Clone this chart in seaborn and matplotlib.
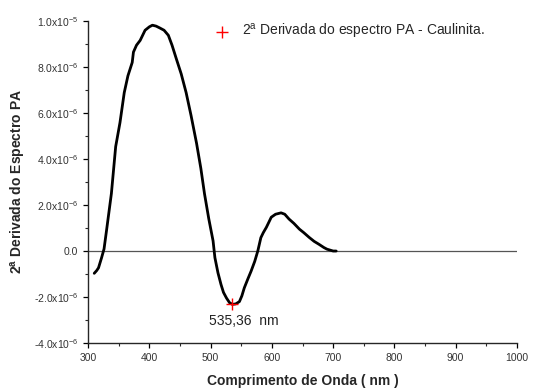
import matplotlib
matplotlib.use("Agg")
import matplotlib.pyplot as plt
import seaborn as sns
import numpy as np
import pandas as pd
from matplotlib.ticker import MultipleLocator, FixedLocator

wavelength = [310, 314, 317, 322, 326, 330, 338, 345, 352, 359, 365, 372, 374, 379, 385,
              393, 400, 405, 411, 417, 424, 431, 437, 444, 452, 460, 468, 477, 484, 490,
              497, 504, 507, 512, 517, 521, 526, 531, 535.36, 541, 547, 551, 555, 561, 566,
              572, 577, 582, 586, 591, 595, 599, 606, 615, 621, 628, 636, 645, 652, 661,
              669, 677, 685, 690, 695, 700, 705]
deriv = [-0.97, -0.85, -0.73, -0.29, 0.09, 0.88, 2.5, 4.54, 5.58, 6.89, 7.62, 8.2, 8.65, 8.95, 9.16,
         9.6, 9.75, 9.82, 9.78, 9.7, 9.6, 9.38, 8.95, 8.36, 7.7, 6.89, 5.9, 4.69, 3.6, 2.49,
         1.4, 0.44, -0.29, -0.95, -1.46, -1.8, -2.05, -2.25, -2.32, -2.3, -2.2, -1.95, -1.6, -1.2, -0.88,
         -0.45, 0.0, 0.58, 0.8, 1.03, 1.25, 1.47, 1.6, 1.66, 1.6, 1.39, 1.2, 0.95, 0.8, 0.59,
         0.42, 0.29, 0.15, 0.08, 0.04, 0.0, 0.0]
deriv = [v * 1e-6 for v in deriv]

min_x = [535.36]
min_y = [-2.32e-6]
min_label = "535,36  nm"
legend_label = "2$^{\\mathrm{a}}$ Derivada do espectro PA - Caulinita."

y_ticks = [-4e-6, -2e-6, 0.0, 2e-6, 4e-6, 6e-6, 8e-6, 1.0e-5]
y_tick_labels = ["-4.0x10$^{-6}$", "-2.0x10$^{-6}$", "0.0", "2.0x10$^{-6}$", "4.0x10$^{-6}$",
                 "6.0x10$^{-6}$", "8.0x10$^{-6}$", "1.0x10$^{-5}$"]
x_ticks = [300, 400, 500, 600, 700, 800, 900, 1000]

sns.set_style("ticks")
plt.rcParams['font.family'] = ['Liberation Sans', 'DejaVu Sans']
plt.rcParams['mathtext.fontset'] = 'custom'
plt.rcParams['mathtext.rm'] = 'Liberation Sans'
plt.rcParams['mathtext.bf'] = 'Liberation Sans:bold'

fig = plt.figure(figsize=(5.34, 3.9), dpi=100)
ax = fig.add_axes([0.165, 0.1205, 0.803, 0.8255])

ax.axhline(0, color="#555555", lw=0.9, zorder=1)

df = pd.DataFrame({"x": wavelength, "y": deriv})
sns.lineplot(data=df, x="x", y="y", ax=ax, color="black", lw=2.0, zorder=3)

dfm = pd.DataFrame({"x": min_x, "y": min_y})
sns.scatterplot(data=dfm, x="x", y="y", ax=ax, marker="+", color="red", s=70,
                linewidth=1.0, zorder=4, label=legend_label)
ax.annotate(min_label, (min_x[0], min_y[0]), xytext=(8, -7), textcoords="offset points",
            ha="center", va="top", fontsize=10, color="#222222")

ax.set_xlim(300, 1000)
ax.set_ylim(-4e-6, 1.0e-5)
ax.xaxis.set_major_locator(FixedLocator(x_ticks))
ax.xaxis.set_minor_locator(MultipleLocator(50))
ax.set_yticks(y_ticks)
ax.set_yticklabels(y_tick_labels)
ax.yaxis.set_minor_locator(MultipleLocator(1e-6))
ax.tick_params(axis="both", which="major", labelsize=7.5, length=3.5, width=0.9, direction="out", colors="black")
ax.tick_params(axis="both", which="minor", length=2, width=0.8, direction="out")
for lab in ax.get_xticklabels() + ax.get_yticklabels():
    lab.set_color("#333333")

sns.despine(ax=ax)
ax.spines["left"].set_linewidth(1.0)
ax.spines["bottom"].set_linewidth(1.0)

ax.set_xlabel("Comprimento de Onda ( nm )", fontsize=10, fontweight="bold", labelpad=8)
ax.set_ylabel("2$^{\\mathbf{a}}$ Derivada do Espectro PA", fontsize=10, fontweight="bold", labelpad=4)

leg = ax.legend(loc="upper left", frameon=False, fontsize=10, handletextpad=0.8,
                handlelength=1.2, bbox_to_anchor=(0.28, 1.015), borderaxespad=0)

fig.savefig("out.png", dpi=100)
